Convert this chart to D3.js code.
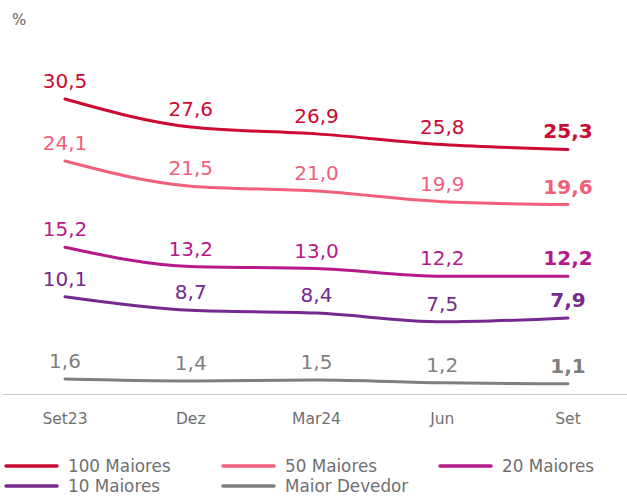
<!DOCTYPE html>
<html>
<head>
<meta charset="utf-8">
<script src="https://cdn.jsdelivr.net/npm/d3@7"></script>
<style>
  html, body { margin: 0; padding: 0; background: #fff; }
  svg { display: block; font-family: "DejaVu Sans", sans-serif; }
</style>
</head>
<body>
<div id="chart"></div>
<script>
const periods = ["Set23", "Dez", "Mar24", "Jun", "Set"];
const seriesNames = ["100 Maiores", "50 Maiores", "20 Maiores", "10 Maiores", "Maior Devedor"];
const top100 = [30.5, 27.6, 26.9, 25.8, 25.3];
const top50 = [24.1, 21.5, 21.0, 19.9, 19.6];
const top20 = [15.2, 13.2, 13.0, 12.2, 12.2];
const top10 = [10.1, 8.7, 8.4, 7.5, 7.9];
const biggest = [1.6, 1.4, 1.5, 1.2, 1.1];
const colors = ["#cc0a32", "#f0607a", "#b5198a", "#74298f", "#7f7f7f"];

const allSeries = [top100, top50, top20, top10, biggest].map((vals, i) => ({
  name: seriesNames[i], color: colors[i], values: vals
}));

const width = 627, height = 497;
const svg = d3.select("#chart").append("svg")
  .attr("width", width).attr("height", height);

const x = d3.scalePoint().domain(periods).range([65, 568]);
const y = d3.scaleLinear().domain([0, 35]).range([394.5, 55.4]);

const fmt = v => d3.format(".1f")(v).replace(".", ",");

// unit
svg.append("text").attr("x", 12).attr("y", 25)
  .attr("font-size", 15).attr("fill", "#666").text("%");

// baseline axis
svg.append("line").attr("x1", 3).attr("x2", 627)
  .attr("y1", 394.5).attr("y2", 394.5)
  .attr("stroke", "#c8c8c8").attr("stroke-width", 1.2);

svg.append("g").selectAll("text").data(periods).join("text")
  .attr("x", d => x(d)).attr("y", 424)
  .attr("text-anchor", "middle").attr("font-size", 15.5)
  .attr("fill", "#6f6f6f").text(d => d);

const line = d3.line()
  .x((d, i) => x(periods[i]))
  .y(d => y(d))
  .curve(d3.curveMonotoneX);

const groups = svg.append("g").selectAll("g").data(allSeries).join("g");

groups.append("path")
  .attr("d", d => line(d.values))
  .attr("fill", "none")
  .attr("stroke", d => d.color)
  .attr("stroke-width", 3)
  .attr("stroke-linecap", "round");

groups.each(function(s) {
  d3.select(this).selectAll("text").data(s.values).join("text")
    .attr("x", (d, i) => x(periods[i]))
    .attr("y", d => y(d) - 11)
    .attr("text-anchor", "middle")
    .attr("font-size", 20)
    .attr("font-weight", (d, i) => i === s.values.length - 1 ? "bold" : "normal")
    .attr("fill", s.color)
    .text(d => fmt(d));
});

// legend
const legendPos = [[5, 466], [222, 466], [439, 466], [5, 486], [222, 486]];
const legend = svg.append("g").selectAll("g").data(allSeries).join("g")
  .attr("transform", (d, i) => `translate(${legendPos[i][0]},${legendPos[i][1]})`);
legend.append("line").attr("x1", 1).attr("x2", 52)
  .attr("stroke", d => d.color).attr("stroke-width", 3.5)
  .attr("stroke-linecap", "round");
legend.append("text").attr("x", 63).attr("y", 6)
  .attr("font-size", 16.8).attr("fill", "#6f6f6f").text(d => d.name);
</script>
</body>
</html>
